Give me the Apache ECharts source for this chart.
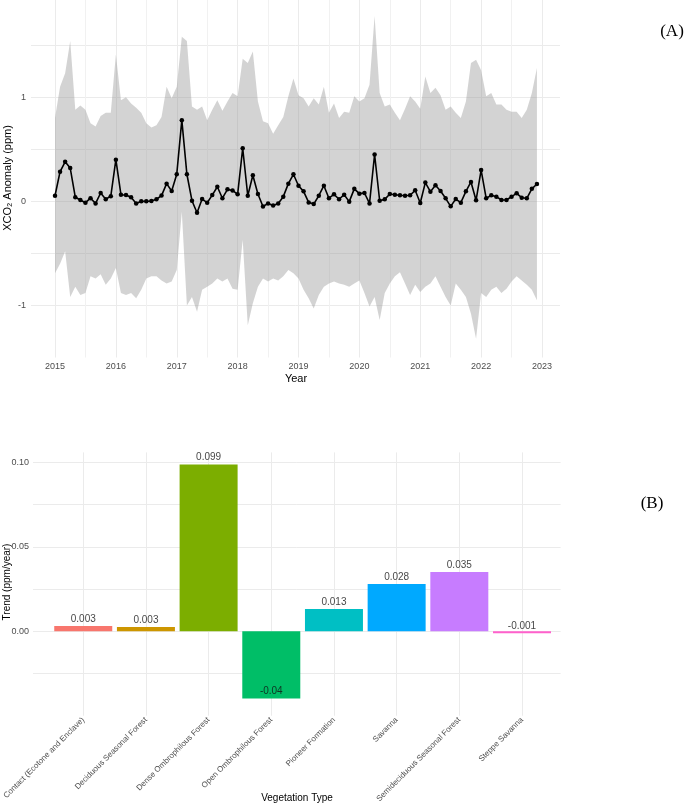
<!DOCTYPE html>
<html>
<head>
<meta charset="utf-8">
<script src="https://cdn.jsdelivr.net/npm/echarts@6/dist/echarts.min.js"></script>
<style>
  html, body { margin: 0; padding: 0; background: #fff; }
  #main { width: 685px; height: 807px; }
</style>
</head>
<body>
<div id="main"></div>
<script>
// (A) monthly XCO2 anomaly, Jan 2015 - Dec 2022
var startYear = 2015;
var anomaly = [
  0.054, 0.285, 0.38, 0.32, 0.04, 0.013, -0.013, 0.03, -0.02, 0.08, 0.02, 0.05,
  0.40, 0.064, 0.06, 0.04, -0.02, 0.0, 0.0, 0.003, 0.02, 0.055, 0.17, 0.10,
  0.26, 0.78, 0.26, 0.006, -0.11, 0.022, -0.013, 0.06, 0.14, 0.03, 0.115, 0.105,
  0.067, 0.51, 0.054, 0.25, 0.07, -0.05, -0.02, -0.04, -0.02, 0.045, 0.17, 0.26,
  0.15, 0.096, -0.01, -0.026, 0.054, 0.15, 0.03, 0.067, 0.02, 0.064, -0.003, 0.12,
  0.074, 0.08, -0.02, 0.45, 0.006, 0.019, 0.07, 0.064, 0.058, 0.054, 0.058, 0.106,
  -0.016, 0.18, 0.093, 0.154, 0.099, 0.029, -0.048, 0.022, -0.013, 0.096, 0.186, 0.01,
  0.30, 0.029, 0.058, 0.045, 0.013, 0.013, 0.045, 0.077, 0.035, 0.029, 0.12, 0.167
];
var upper = [
  0.80, 1.10, 1.23, 1.54, 0.88, 0.92, 0.88, 0.75, 0.72, 0.82, 0.85, 0.85,
  1.41, 0.97, 1.00, 0.94, 0.90, 0.85, 0.75, 0.71, 0.73, 0.81, 1.10, 0.99,
  1.10, 1.58, 1.54, 0.91, 0.88, 0.91, 0.78, 0.88, 0.97, 0.87, 0.96, 1.04,
  1.01, 1.37, 1.33, 1.44, 0.96, 0.77, 0.75, 0.65, 0.73, 0.81, 1.01, 1.18,
  1.02, 0.99, 0.91, 0.99, 0.93, 1.10, 0.85, 0.94, 0.80, 0.86, 0.85, 1.01,
  0.96, 0.99, 1.12, 1.78, 1.04, 0.91, 0.93, 0.85, 0.78, 0.89, 1.01, 0.96,
  0.89, 1.20, 1.04, 1.09, 1.02, 0.88, 0.91, 0.85, 0.80, 0.96, 1.33, 1.36,
  1.26, 1.01, 1.04, 0.93, 0.93, 0.88, 0.86, 0.86, 0.80, 0.88, 1.04, 1.28
];
var lower = [
  -0.69, -0.60, -0.48, -0.92, -0.82, -0.90, -0.88, -0.72, -0.74, -0.70, -0.80, -0.74,
  -0.64, -0.88, -0.90, -0.88, -0.93, -0.85, -0.74, -0.72, -0.72, -0.76, -0.79, -0.77,
  -0.66, -0.10, -1.00, -0.92, -1.06, -0.85, -0.82, -0.79, -0.74, -0.77, -0.74, -0.84,
  -0.85, -0.37, -1.19, -0.98, -0.82, -0.74, -0.77, -0.74, -0.76, -0.72, -0.66, -0.69,
  -0.74, -0.85, -0.93, -1.03, -0.90, -0.82, -0.79, -0.77, -0.79, -0.80, -0.82, -0.79,
  -0.76, -0.88, -1.01, -0.92, -1.14, -0.88, -0.79, -0.72, -0.68, -0.79, -0.90, -0.80,
  -0.87, -0.82, -0.79, -0.72, -0.82, -0.92, -1.00, -0.79, -0.85, -0.92, -1.08, -1.32,
  -0.88, -0.92, -0.85, -0.82, -0.88, -0.84, -0.77, -0.72, -0.76, -0.80, -0.85, -0.95
];

// (B) trend by vegetation type
var vegTypes = [
  'Contact (Ecotone and Enclave)', 'Deciduous Seasonal Forest', 'Dense Ombrophilous Forest',
  'Open Ombrophilous Forest', 'Pioneer Formation', 'Savanna',
  'Semideciduous Seasonal Forest', 'Steppe Savanna'
];
var trend = [0.0032, 0.0026, 0.0989, -0.0398, 0.0132, 0.0281, 0.0352, -0.0011];
var vegColors = ['#F8766D', '#CD9600', '#7CAE00', '#00BE67', '#00BFC4', '#00A9FF', '#C77CFF', '#FF61CC'];

var font = 'Liberation Sans, Arial, sans-serif';
var gridCol = '#ebebeb';
var tickCol = '#4d4d4d';

// x positions for monthly points
var xs = anomaly.map(function (v, i) { return startYear + i / 12; });
var bandData = upper.map(function (v, i) { return [xs[i], lower[i], v]; });
var lineData = anomaly.map(function (v, i) { return [xs[i], v]; });

// ribbon drawn as one polygon through the axis scales
function renderBand(params, api) {
    if (params.dataIndex !== 0) return null;
    var pts = [];
    for (var i = 0; i < bandData.length; i++) pts.push(api.coord([bandData[i][0], bandData[i][2]]));
    for (var j = bandData.length - 1; j >= 0; j--) pts.push(api.coord([bandData[j][0], bandData[j][1]]));
    return {
        type: 'polygon', silent: true,
        shape: { points: pts },
        style: { fill: 'rgba(150,150,150,0.42)', stroke: null }
    };
}

function textEl(txt, x, y, size, rot, fam, col) {
    return {
        type: 'text', x: x, y: y, rotation: rot || 0, silent: true,
        style: {
            text: txt, fill: col || '#000', font: size + 'px ' + (fam || font),
            align: 'center', verticalAlign: 'middle',
            textAlign: 'center', textVerticalAlign: 'middle'
        }
    };
}

var option = {
    animation: false,
    textStyle: { fontFamily: font },
    grid: [
        { left: 55, right: 143, top: 0, bottom: 449.5 },      // data area of (A)
        { left: 31, right: 125, top: 0, bottom: 449.5 },      // panel of (A)
        { left: 72, right: 163, top: 452.4, bottom: 91.3 },   // bars of (B)
        { left: 33, right: 124.4, top: 452.4, bottom: 91.3 }  // panel of (B)
    ],
    xAxis: [
        {
            gridIndex: 0, type: 'value', min: 2015, max: 2023, interval: 1,
            axisLine: { show: false }, axisTick: { show: false },
            axisLabel: { color: tickCol, fontSize: 9, margin: 5, formatter: function (v) { return String(v); } },
            splitLine: { show: true, lineStyle: { color: gridCol, width: 1 } },
            minorTick: { show: false, splitNumber: 2 },
            minorSplitLine: { show: true, lineStyle: { color: '#f1f1f1', width: 1 } }
        },
        { gridIndex: 1, type: 'value', min: 0, max: 1, show: false },
        {
            gridIndex: 2, type: 'category', data: vegTypes, boundaryGap: false,
            axisLine: { show: false }, axisTick: { show: false },
            axisLabel: { interval: 0, rotate: 45, color: tickCol, fontSize: 8, margin: 3 },
            splitLine: { show: true, interval: 0, lineStyle: { color: gridCol, width: 1 } }
        },
        { gridIndex: 3, type: 'value', min: 0, max: 1, show: false }
    ],
    yAxis: [
        { gridIndex: 0, type: 'value', min: -1.5, max: 1.934, show: false },
        {
            gridIndex: 1, type: 'value', min: -1.5, max: 1.934, interval: 0.5,
            axisLine: { show: false }, axisTick: { show: false },
            axisLabel: {
                color: tickCol, fontSize: 9, margin: 5,
                formatter: function (v) { return Math.abs(v - Math.round(v)) < 1e-6 ? String(Math.round(v)) : ''; }
            },
            splitLine: { show: true, showMinLine: false, showMaxLine: false, lineStyle: { color: gridCol, width: 1 } }
        },
        { gridIndex: 2, type: 'value', min: -0.05, max: 0.106, show: false },
        {
            gridIndex: 3, type: 'value', min: -0.05, max: 0.106, interval: 0.025,
            axisLine: { show: false }, axisTick: { show: false },
            axisLabel: {
                color: tickCol, fontSize: 9, margin: 4, showMinLabel: false,
                formatter: function (v) {
                    return Math.abs(v * 20 - Math.round(v * 20)) < 1e-6 ? v.toFixed(2) : '';
                }
            },
            splitLine: { show: true, showMinLine: false, showMaxLine: false, lineStyle: { color: gridCol, width: 1 } }
        }
    ],
    series: [
        {
            name: 'band', type: 'custom', xAxisIndex: 0, yAxisIndex: 0,
            renderItem: renderBand, data: bandData, encode: { x: 0, y: [1, 2] }, silent: true, z: 1
        },
        {
            name: 'anomaly', type: 'line', xAxisIndex: 0, yAxisIndex: 0, data: lineData,
            symbol: 'circle', symbolSize: 4.5, showSymbol: true, z: 3,
            lineStyle: { color: '#000', width: 1.6 }, itemStyle: { color: '#000' }
        },
        {
            name: 'trend', type: 'bar', xAxisIndex: 2, yAxisIndex: 2, barWidth: 58, clip: false,
            data: trend.map(function (v, i) { return { value: v, itemStyle: { color: vegColors[i] } }; })
        },
        {
            name: 'labels', type: 'scatter', xAxisIndex: 2, yAxisIndex: 2,
            symbolSize: 0.1, itemStyle: { color: 'transparent' }, data: trend,
            label: {
                show: true, position: 'top', distance: 2, color: '#111', fontSize: 10,
                formatter: function (p) { return String(Math.round(p.value * 1000) / 1000); }
            }
        }
    ],
    graphic: [
        textEl('Year', 296, 379, 11),
        textEl('XCO\u2082 Anomaly (ppm)', 8, 178, 11, Math.PI / 2),
        textEl('Vegetation Type', 297, 798, 10),
        textEl('Trend (ppm/year)', 7, 582, 10, Math.PI / 2),
        textEl('(A)', 672, 32, 17, 0, 'Liberation Serif, Times New Roman, serif'),
        textEl('(B)', 652, 504, 17, 0, 'Liberation Serif, Times New Roman, serif')
    ]
};

var myChart = echarts.init(document.getElementById('main'));
myChart.setOption(option);
</script>
</body>
</html>
